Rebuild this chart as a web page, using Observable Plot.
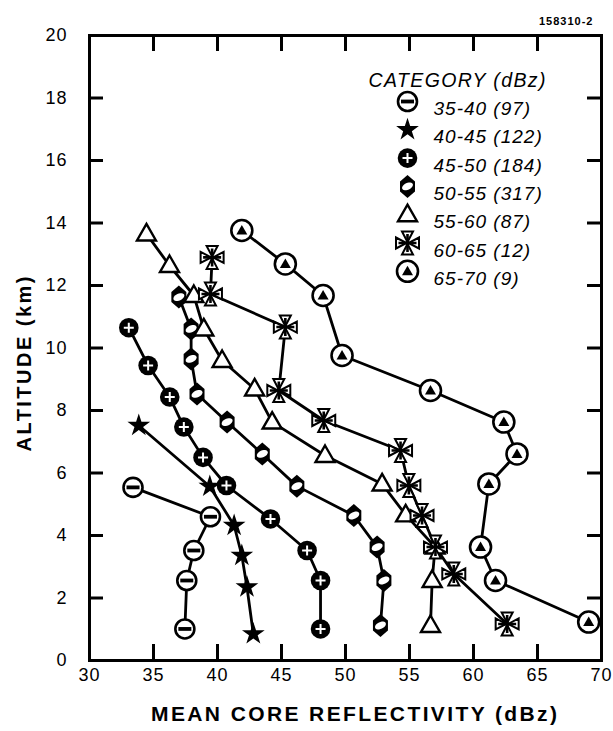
<!DOCTYPE html>
<html><head><meta charset="utf-8">
<script src="https://cdn.jsdelivr.net/npm/d3@7"></script>
<script src="https://cdn.jsdelivr.net/npm/@observablehq/plot@0.6"></script>
<style>
body{margin:0;background:#fff;}
</style>
</head><body><div id="chart"></div>
<script>
// ---- data ----
const categories = ["35-40", "40-45", "45-50", "50-55", "55-60", "60-65", "65-70"];
const counts = [97, 122, 184, 317, 87, 12, 9];
const reflectivity = [
  [33.4, 39.45, 38.15, 37.6, 37.45],
  [33.85, 39.4, 41.3, 41.9, 42.3, 42.8],
  [33.07, 34.58, 36.27, 37.37, 38.87, 40.7, 44.14, 47.0, 48.05, 48.05],
  [36.98, 37.94, 37.94, 38.4, 40.75, 43.5, 46.2, 50.65, 52.47, 53.0, 52.73],
  [34.45, 36.25, 38.15, 38.93, 40.36, 42.9, 44.27, 48.4, 52.86, 54.7, 57.0, 56.77, 56.64],
  [39.58, 39.45, 45.3, 44.79, 48.3, 54.3, 54.95, 55.98, 57.03, 58.46, 62.63],
  [41.9, 45.3, 48.25, 49.73, 56.64, 62.37, 63.4, 61.2, 60.55, 61.72, 69.0]
];
const altitude = [
  [5.54, 4.6, 3.52, 2.56, 1.01],
  [7.52, 5.57, 4.32, 3.36, 2.35, 0.85],
  [10.65, 9.44, 8.43, 7.47, 6.5, 5.6, 4.53, 3.52, 2.56, 1.01],
  [11.63, 10.61, 9.65, 8.53, 7.63, 6.61, 5.58, 4.64, 3.63, 2.56, 1.12],
  [13.65, 12.64, 11.68, 10.61, 9.6, 8.69, 7.63, 6.56, 5.65, 4.66, 3.63, 2.56, 1.12],
  [12.9, 11.73, 10.67, 8.64, 7.68, 6.72, 5.6, 4.64, 3.63, 2.77, 1.17],
  [13.76, 12.69, 11.68, 9.76, 8.64, 7.63, 6.61, 5.65, 3.63, 2.56, 1.23]
];
const xTicks = [30, 35, 40, 45, 50, 55, 60, 65, 70];
const yTicks = [0, 2, 4, 6, 8, 10, 12, 14, 16, 18, 20];
const xLabel = "MEAN CORE REFLECTIVITY (dBz)";
const yLabel = "ALTITUDE (km)";
const legendTitle = "CATEGORY (dBz)";
const figureId = "158310-2";

const rows = categories.flatMap((c, i) =>
  reflectivity[i].map((x, j) => ({category: c, x, y: altitude[i][j]})));
const legendLabels = categories.map((c, i) => `${c} (${counts[i]})`);

// ---- glyphs (custom symbols) ----
const sym = fn => ({draw(ctx) { fn(ctx); }});
const poly = (ctx, pts) => { ctx.moveTo(...pts[0]); pts.slice(1).forEach(p => ctx.lineTo(...p)); ctx.closePath(); };
const circle = r => sym(ctx => { ctx.moveTo(r, 0); ctx.arc(0, 0, r, 0, 2 * Math.PI); });
const bar = sym(ctx => ctx.rect(-6.5, -1.9, 13, 3.8));
const plus = sym(ctx => { ctx.moveTo(-5, 0); ctx.lineTo(5, 0); ctx.moveTo(0, -5); ctx.lineTo(0, 5); });
const hex = sym(ctx => poly(ctx, [[0, -11.5], [7.5, -5], [7.5, 5], [0, 11.5], [-7.5, 5], [-7.5, -5]]));
const ell = sym(ctx => {
  const a = -25 * Math.PI / 180, pts = [];
  for (let k = 0; k < 24; k++) {
    const t = k / 24 * 2 * Math.PI, px = 5.8 * Math.cos(t), py = 3.4 * Math.sin(t);
    pts.push([px * Math.cos(a) - py * Math.sin(a), px * Math.sin(a) + py * Math.cos(a)]);
  }
  poly(ctx, pts);
});
const tri = sym(ctx => poly(ctx, [[0, -10], [9.5, 6.5], [-9.5, 6.5]]));
const crossTris = sym(ctx => {
  poly(ctx, [[-5.5, -11.5], [5.5, -11.5], [0, -1]]);
  poly(ctx, [[-5.5, 11.5], [5.5, 11.5], [0, 1]]);
  poly(ctx, [[-11.5, -5.5], [-11.5, 5.5], [-1, 0]]);
  poly(ctx, [[11.5, -5.5], [11.5, 5.5], [1, 0]]);
});
const crossPlus = sym(ctx => { ctx.moveTo(0, -9); ctx.lineTo(0, 9); ctx.moveTo(-9, 0); ctx.lineTo(9, 0); });
const innerTri = sym(ctx => poly(ctx, [[0, -5.5], [5.5, 4], [-5.5, 4]]));
const star = sym(ctx => d3.symbolStar.draw(ctx, 160));

const glyphs = [
  [{symbol: circle(9.5), fill: "white", stroke: "black", strokeWidth: 2.6}, {symbol: bar, fill: "black", stroke: "none"}],
  [{symbol: star, fill: "black", stroke: "none"}],
  [{symbol: circle(9.8), fill: "black", stroke: "none"}, {symbol: plus, fill: "none", stroke: "white", strokeWidth: 2}],
  [{symbol: hex, fill: "black", stroke: "none"}, {symbol: ell, fill: "white", stroke: "none"}],
  [{symbol: tri, fill: "white", stroke: "black", strokeWidth: 2.4}],
  [{symbol: crossTris, fill: "white", stroke: "black", strokeWidth: 2}, {symbol: crossPlus, fill: "none", stroke: "black", strokeWidth: 2.6}],
  [{symbol: circle(10.5), fill: "white", stroke: "black", strokeWidth: 2.6}, {symbol: innerTri, fill: "black", stroke: "none"}]
];

const W = 613, H = 731, mL = 89, mR = 12, mT = 35, mB = 71;
const pw = W - mL - mR, ph = H - mT - mB;

const dataMarks = categories.flatMap((c, i) =>
  glyphs[i].map(g => Plot.dot(rows.filter(d => d.category === c), {x: "x", y: "y", ...g})));

const legendMarks = categories.flatMap((c, i) => [
  ...glyphs[i].map(g => Plot.dot([0], {frameAnchor: "top-left", dx: 318, dy: 66 + 28.3 * i, ...g})),
  Plot.text([legendLabels[i]], {frameAnchor: "top-left", dx: 344, dy: 66 + 28.3 * i, textAnchor: "start",
    fontStyle: "italic", fontSize: 19})
]);

const chart = Plot.plot({
  width: W, height: H,
  marginLeft: mL, marginRight: mR, marginTop: mT, marginBottom: mB,
  style: {fontFamily: "'Liberation Sans', Arial, Helvetica, sans-serif", color: "black", background: "white", overflow: "visible"},
  x: {domain: [30, 70], label: null},
  y: {domain: [0, 20], label: null},
  marks: [
    Plot.frame({strokeWidth: 3}),
    Plot.ruleX(xTicks.slice(1, -1), {x: d => d, insetTop: ph - 16, strokeWidth: 3}),
    Plot.ruleX(xTicks.slice(1, -1), {x: d => d, insetBottom: ph - 16, strokeWidth: 3}),
    Plot.ruleY(yTicks.slice(1, -1), {y: d => d, insetRight: pw - 14, strokeWidth: 3}),
    Plot.ruleY(yTicks.slice(1, -1), {y: d => d, insetLeft: pw - 14, strokeWidth: 3}),
    Plot.axisX(xTicks, {tickSize: 0, tickPadding: 8, label: null, fontSize: 18}),
    Plot.axisY(yTicks, {tickSize: 0, tickPadding: 22, label: null, fontSize: 18}),
    Plot.text([xLabel], {frameAnchor: "bottom", dx: 9, dy: 53, fontSize: 21, fontWeight: "bold"}),
    Plot.text([yLabel], {frameAnchor: "left", rotate: -90, dx: -65, dy: 16, fontSize: 20, fontWeight: "bold"}),
    Plot.text([figureId], {frameAnchor: "top-right", dx: -8, dy: -18, textAnchor: "end", fontSize: 11, fontWeight: "bold"}),
    Plot.line(rows, {x: "x", y: "y", z: "category", stroke: "black", strokeWidth: 2.8}),
    ...dataMarks,
    Plot.text([legendTitle], {frameAnchor: "top-left", dx: 279, dy: 38, textAnchor: "start", fontStyle: "italic", fontSize: 19.5}),
    ...legendMarks
  ]
});

// stretch lettering to the wide tracking of the original
const stretch = new Map([[xLabel, 406], [yLabel, 175], [legendTitle, 177]]);
const spacing = new Map([[figureId, 1]]);
legendLabels.forEach(l => spacing.set(l, 1));
d3.select(chart).selectAll("text").each(function() {
  const t = this.textContent;
  if (stretch.has(t)) {
    this.setAttribute("textLength", stretch.get(t));
    this.setAttribute("lengthAdjust", "spacing");
  } else {
    const ls = spacing.has(t) ? spacing.get(t) : (/^\d+$/.test(t) ? 1 : 0);
    if (ls) this.style.letterSpacing = ls + "px";
  }
});
document.getElementById("chart").appendChild(chart);

// make sure the axis titles are centred where the original has them
const centres = new Map([[yLabel, [24, 364]], [xLabel, [354, 713]]]);
const box = chart.getBoundingClientRect();
d3.select(chart).selectAll("text").each(function() {
  const c = centres.get(this.textContent);
  if (!c) return;
  const r = this.getBoundingClientRect();
  const cx = r.x + r.width / 2 - box.x, cy = r.y + r.height / 2 - box.y;
  const tr = this.getAttribute("transform") || "";
  this.setAttribute("transform", `translate(${(c[0] - cx).toFixed(1)},${(c[1] - cy).toFixed(1)}) ${tr}`);
});
</script>
</body></html>
